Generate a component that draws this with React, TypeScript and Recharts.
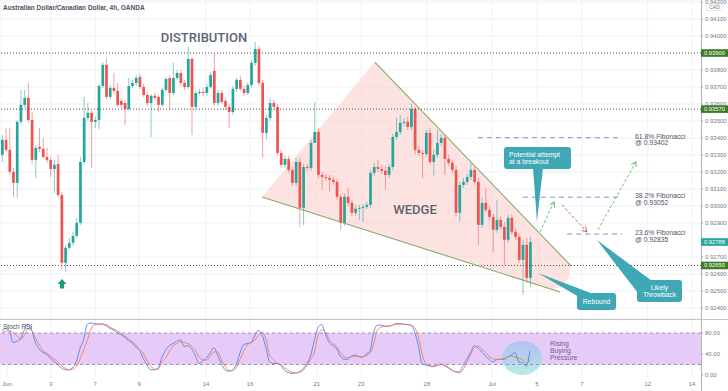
import React from 'react';
import { ComposedChart, Bar, Line, XAxis, YAxis, CartesianGrid, ReferenceLine, ReferenceArea } from 'recharts';

// AUD/CAD 4h candles
const OPEN = [
  0.93301, 0.93389, 0.93330, 0.93201, 0.93136, 0.93495, 0.93595, 0.93636, 0.93506, 0.93271,
  0.93348, 0.93336, 0.93289, 0.93271, 0.93218, 0.93248, 0.93065, 0.92666, 0.92754, 0.92783,
  0.92824, 0.92901, 0.93259, 0.93518, 0.93548, 0.93495, 0.93506, 0.93706, 0.93830, 0.93642,
  0.93695, 0.93677, 0.93618, 0.93606, 0.93571, 0.93706, 0.93724, 0.93759, 0.93700, 0.93653,
  0.93606, 0.93648, 0.93642, 0.93595, 0.93683, 0.93753, 0.93665, 0.93753, 0.93783, 0.93724,
  0.93700, 0.93865, 0.93583, 0.93665, 0.93671, 0.93665, 0.93700, 0.93795, 0.93606, 0.93665,
  0.93618, 0.93583, 0.93553, 0.93689, 0.93742, 0.93689, 0.93665, 0.93712, 0.93842, 0.93924,
  0.93724, 0.93430, 0.93518, 0.93606, 0.93583, 0.93312, 0.93242, 0.93277, 0.93212, 0.93136,
  0.93259, 0.92989, 0.93230, 0.93224, 0.93371, 0.93436, 0.93183, 0.93171, 0.93165, 0.93154,
  0.93142, 0.93054, 0.92901, 0.93054, 0.93018, 0.92960, 0.92983, 0.92989, 0.92995, 0.93007,
  0.93195, 0.93230, 0.93218, 0.93207, 0.93183, 0.93230, 0.93406, 0.93436, 0.93489, 0.93495,
  0.93465, 0.93571, 0.93330, 0.93312, 0.93306, 0.93430, 0.93259, 0.93301, 0.93371, 0.93401,
  0.93277, 0.93254, 0.93212, 0.92960, 0.93124, 0.93142, 0.93171, 0.93212, 0.93142, 0.92889,
  0.93018, 0.92977, 0.92936, 0.92860, 0.92918, 0.92877, 0.92801, 0.92930, 0.92848, 0.92818,
  0.92683, 0.92771, 0.92577,
];
const HIGH = [
  0.93418, 0.93459, 0.93459, 0.93224, 0.93506, 0.93683, 0.93683, 0.93724, 0.93553, 0.93359,
  0.93459, 0.93401, 0.93342, 0.93289, 0.93271, 0.93301, 0.93083, 0.92771, 0.92813, 0.92848,
  0.92930, 0.93289, 0.93642, 0.93606, 0.93565, 0.93524, 0.93718, 0.93847, 0.93871, 0.93712,
  0.93783, 0.93724, 0.93630, 0.93624, 0.93753, 0.93742, 0.93771, 0.93777, 0.93718, 0.93671,
  0.93659, 0.93665, 0.93653, 0.93695, 0.93759, 0.93771, 0.93842, 0.93800, 0.93800, 0.93742,
  0.93936, 0.93877, 0.93677, 0.93689, 0.93695, 0.93718, 0.93789, 0.93900, 0.93683, 0.93683,
  0.93636, 0.93600, 0.93706, 0.93753, 0.93765, 0.93706, 0.93730, 0.93859, 0.93965, 0.93942,
  0.93742, 0.93536, 0.93636, 0.93624, 0.93600, 0.93330, 0.93295, 0.93295, 0.93230, 0.93283,
  0.93283, 0.93248, 0.93248, 0.93389, 0.93612, 0.93459, 0.93201, 0.93189, 0.93183, 0.93171,
  0.93159, 0.93071, 0.93071, 0.93107, 0.93036, 0.93007, 0.93007, 0.93012, 0.93024, 0.93212,
  0.93254, 0.93271, 0.93242, 0.93236, 0.93248, 0.93424, 0.93518, 0.93536, 0.93518, 0.93524,
  0.93600, 0.93583, 0.93354, 0.93330, 0.93448, 0.93459, 0.93330, 0.93448, 0.93424, 0.93418,
  0.93301, 0.93271, 0.93236, 0.93142, 0.93165, 0.93189, 0.93254, 0.93230, 0.93165, 0.93048,
  0.93107, 0.93001, 0.92954, 0.93036, 0.92936, 0.92907, 0.92948, 0.92948, 0.92871, 0.92836,
  0.92801, 0.92813, 0.92818,
];
const LOW = [
  0.93259, 0.93318, 0.93183, 0.93054, 0.93048, 0.93477, 0.93577, 0.93495, 0.93248, 0.93165,
  0.93318, 0.93277, 0.93254, 0.93171, 0.93077, 0.93054, 0.92624, 0.92613, 0.92742, 0.92766,
  0.92813, 0.92889, 0.93242, 0.93501, 0.93224, 0.93459, 0.93453, 0.93695, 0.93624, 0.93624,
  0.93659, 0.93583, 0.93577, 0.93477, 0.93559, 0.93695, 0.93706, 0.93689, 0.93642, 0.93589,
  0.93406, 0.93624, 0.93553, 0.93583, 0.93671, 0.93565, 0.93653, 0.93742, 0.93706, 0.93683,
  0.93689, 0.93418, 0.93565, 0.93653, 0.93648, 0.93648, 0.93689, 0.93589, 0.93589, 0.93600,
  0.93565, 0.93459, 0.93536, 0.93671, 0.93677, 0.93648, 0.93653, 0.93695, 0.93824, 0.93706,
  0.93283, 0.93389, 0.93501, 0.93565, 0.93295, 0.93224, 0.93224, 0.93195, 0.93118, 0.93118,
  0.92877, 0.92889, 0.93207, 0.93207, 0.93418, 0.93165, 0.93095, 0.93148, 0.93083, 0.93124,
  0.93036, 0.92860, 0.92883, 0.93001, 0.92942, 0.92942, 0.92918, 0.92907, 0.92983, 0.92989,
  0.93177, 0.93201, 0.93189, 0.93095, 0.93165, 0.93212, 0.93389, 0.93418, 0.93471, 0.93448,
  0.93448, 0.93301, 0.93295, 0.93165, 0.93289, 0.93242, 0.93177, 0.93283, 0.93354, 0.93183,
  0.93236, 0.93195, 0.92942, 0.92907, 0.93107, 0.93124, 0.93154, 0.93124, 0.92771, 0.92871,
  0.92960, 0.92918, 0.92730, 0.92842, 0.92860, 0.92654, 0.92783, 0.92830, 0.92801, 0.92666,
  0.92477, 0.92548, 0.92524,
];
const CLOSE = [
  0.93389, 0.93330, 0.93201, 0.93136, 0.93495, 0.93595, 0.93636, 0.93506, 0.93271, 0.93342,
  0.93336, 0.93289, 0.93271, 0.93218, 0.93242, 0.93065, 0.92666, 0.92754, 0.92783, 0.92824,
  0.92901, 0.93259, 0.93518, 0.93548, 0.93495, 0.93506, 0.93706, 0.93830, 0.93642, 0.93695,
  0.93677, 0.93595, 0.93595, 0.93571, 0.93706, 0.93724, 0.93753, 0.93700, 0.93653, 0.93606,
  0.93648, 0.93636, 0.93595, 0.93683, 0.93747, 0.93665, 0.93753, 0.93783, 0.93724, 0.93700,
  0.93865, 0.93583, 0.93665, 0.93671, 0.93665, 0.93700, 0.93771, 0.93606, 0.93665, 0.93612,
  0.93583, 0.93553, 0.93689, 0.93742, 0.93689, 0.93665, 0.93712, 0.93842, 0.93924, 0.93724,
  0.93430, 0.93518, 0.93606, 0.93583, 0.93312, 0.93242, 0.93277, 0.93212, 0.93136, 0.93259,
  0.92989, 0.93230, 0.93224, 0.93371, 0.93436, 0.93183, 0.93171, 0.93165, 0.93154, 0.93142,
  0.93054, 0.92901, 0.93054, 0.93018, 0.92960, 0.92983, 0.92989, 0.92995, 0.93007, 0.93195,
  0.93230, 0.93218, 0.93207, 0.93183, 0.93230, 0.93406, 0.93436, 0.93489, 0.93495, 0.93465,
  0.93571, 0.93330, 0.93312, 0.93306, 0.93430, 0.93259, 0.93301, 0.93371, 0.93401, 0.93277,
  0.93254, 0.93212, 0.92960, 0.93124, 0.93142, 0.93171, 0.93212, 0.93142, 0.92889, 0.93018,
  0.92977, 0.92936, 0.92860, 0.92918, 0.92877, 0.92801, 0.92930, 0.92848, 0.92818, 0.92683,
  0.92771, 0.92577, 0.92788,
];

// Stoch RSI %K and %D
const STOCH_K = [
  84, 88, 85, 62, 64, 69, 85, 97, 86, 62, 50, 43, 40, 32, 26, 20, 13, 10, 10, 14,
  25, 50, 68, 97, 99, 98, 97, 97, 94, 89, 86, 80, 77, 72, 66, 61, 53, 48, 32, 20,
  10, 10, 13, 33, 47, 56, 60, 64, 67, 54, 56, 50, 38, 22, 27, 32, 42, 52, 38, 22,
  10, 7, 10, 20, 41, 58, 60, 62, 75, 85, 76, 52, 25, 22, 22, 19, 9, 5, 3, 4,
  6, 12, 22, 36, 65, 90, 96, 78, 62, 56, 50, 36, 30, 30, 36, 38, 35, 34, 40, 46,
  82, 95, 95, 93, 93, 95, 98, 98, 97, 96, 95, 82, 55, 22, 19, 17, 16, 18, 21, 18,
  14, 9, 6, 6, 18, 30, 42, 56, 52, 44, 37, 30, 25, 29, 30, 30, 34, 38, 43, 25,
  23, 17, 46,
];
const STOCH_D = [
  80, 83, 84, 81, 75, 68, 75, 88, 85, 70, 58, 47, 42, 36, 31, 25, 18, 13, 10, 11,
  16, 30, 48, 67, 88, 96, 97, 97, 96, 92, 88, 84, 80, 74, 70, 63, 58, 48, 42, 28,
  18, 11, 11, 25, 32, 45, 55, 60, 63, 62, 60, 55, 48, 35, 29, 28, 35, 44, 44, 30,
  17, 9, 8, 14, 29, 45, 57, 62, 66, 75, 82, 68, 38, 30, 22, 20, 14, 9, 5, 4,
  5, 9, 17, 30, 42, 75, 86, 82, 68, 60, 54, 43, 35, 33, 35, 36, 35, 35, 37, 42,
  60, 86, 91, 93, 93, 95, 97, 97, 97, 96, 95, 90, 73, 40, 22, 18, 17, 18, 20, 19,
  15, 10, 6, 4, 10, 24, 38, 52, 55, 50, 43, 36, 31, 30, 30, 31, 35, 36, 34, 32,
  29, 22, 29,
];

const TICK_POS = [1.4, 13.2, 25.1, 36.9, 54.9, 66.7, 84.7, 96.6, 114.3, 131.8, 143.9, 156, 173.7, 185.6];
const TICK_LABELS = ['Jun', '3', '7', '9', '14', '16', '21', '23', '28', 'Jul', '5', '7', '12', '14'];
// 0.93900 and 0.92800 sit under the coloured price boxes
const PRICE_TICKS = [
  0.924, 0.925, 0.926, 0.927, 0.929, 0.93, 0.931, 0.932, 0.933,
  0.934, 0.935, 0.936, 0.937, 0.938, 0.94, 0.941, 0.942,
];
const LEVELS = [0.939, 0.9357, 0.9265];
const LAST_PRICE = 0.92788;
const FIB_NAMES = ['61.8% Fibonacci', '38.2% Fibonacci', '23.6% Fibonacci'];
const FIB_PRICES = [0.93402, 0.93052, 0.92835];
const FIB_FROM = [128, 140.1, 152];
const FIB_TO = [166.8, 165.7, 166.8];

const UP = '#26a69a';
const DOWN = '#ef5350';
const X_DOMAIN: [number, number] = [-0.5, 188];
const P_DOMAIN: [number, number] = [0.92335, 0.94212];
const S_DOMAIN: [number, number] = [-5.7, 104.8];
const PLOT_W = 701;
const MAIN_H = 319;

const px = (i: number) => ((i - X_DOMAIN[0]) / (X_DOMAIN[1] - X_DOMAIN[0])) * PLOT_W;
const py = (p: number) => ((P_DOMAIN[1] - p) / (P_DOMAIN[1] - P_DOMAIN[0])) * MAIN_H;

const candles = OPEN.map((o, i) => ({ i, open: o, high: HIGH[i], low: LOW[i], close: CLOSE[i] }));
const stoch = STOCH_K.map((k, i) => ({ i, k, d: STOCH_D[i] }));

// wedge outline in (index, price)
const WEDGE = [
  [100.3, 0.93847], [153.05, 0.92647], [152.5, 0.92577], [150.6, 0.9253], [148.2, 0.92507], [69.95, 0.93053],
];
const WEDGE_BOX = { x1: 69.95, x2: 153.05, y1: 0.92494, y2: 0.93847 };

function Candle(props: any) {
  const { x, y, width, height, payload } = props;
  if (!payload || payload.high == null) return null;
  const { open, close, high, low } = payload;
  const top = Math.min(y, y + height);
  const h = Math.abs(height);
  const span = high - low || 1e-9;
  const toY = (v: number) => top + ((high - v) / span) * h;
  const color = close >= open ? UP : DOWN;
  const yo = toY(open);
  const yc = toY(close);
  const cx = x + width / 2;
  return (
    <g>
      <line x1={cx} x2={cx} y1={top} y2={top + h} stroke={color} strokeOpacity={0.55} strokeWidth={1} />
      <rect x={x} y={Math.min(yo, yc)} width={width} height={Math.max(1, Math.abs(yc - yo))} fill={color} />
    </g>
  );
}

function WedgeShape(props: any) {
  const { x, y, width, height } = props;
  const X = (i: number) => x + ((i - WEDGE_BOX.x1) / (WEDGE_BOX.x2 - WEDGE_BOX.x1)) * width;
  const Y = (p: number) => y + ((WEDGE_BOX.y2 - p) / (WEDGE_BOX.y2 - WEDGE_BOX.y1)) * height;
  const pts = WEDGE.map(([i, p]) => `${X(i)},${Y(p)}`).join(' ');
  return <polygon points={pts} fill="#fbd3cf" fillOpacity={0.65} />;
}

function EllipseShape(props: any) {
  const { x, y, width, height } = props;
  return (
    <g>
      <defs>
        <linearGradient id="ell" x1="0" y1="0" x2="0" y2="1">
          <stop offset="0%" stopColor="#a9c0f3" />
          <stop offset="100%" stopColor="#a3e6e0" />
        </linearGradient>
      </defs>
      <ellipse cx={x + width / 2} cy={y + height / 2} rx={width / 2} ry={height / 2} fill="url(#ell)" fillOpacity={0.8} />
    </g>
  );
}

const axisTick = { fontSize: 6, fill: '#787b86' };

export default function App() {
  const green = '#6cbf6c';
  const red = '#e0605a';
  const callout = '#40a7b5';
  return (
    <div style={{ position: 'absolute', left: 0, top: 0, width: 728, height: 391, background: '#fff', overflow: 'hidden', fontFamily: '"Liberation Sans", Arial, sans-serif' }}>
      <div style={{ position: 'absolute', left: 0, top: 0 }}>
        <ComposedChart width={728} height={319} data={candles} margin={{ top: 0, right: 0, bottom: 0, left: 0 }}>
          <CartesianGrid stroke="#eff1f5" />
          <XAxis type="number" dataKey="i" domain={X_DOMAIN} ticks={TICK_POS} hide allowDataOverflow />
          <YAxis
            orientation="right"
            width={27}
            domain={P_DOMAIN}
            ticks={PRICE_TICKS}
            interval={0}
            allowDataOverflow
            tickFormatter={(v: number) => v.toFixed(5)}
            tick={axisTick}
            tickSize={2}
            tickMargin={2}
            axisLine={false}
            tickLine={{ stroke: '#9598a1' }}
          />
          <ReferenceArea x1={WEDGE_BOX.x1} x2={WEDGE_BOX.x2} y1={WEDGE_BOX.y1} y2={WEDGE_BOX.y2} shape={<WedgeShape />} />
          {LEVELS.map((l) => (
            <ReferenceLine key={l} y={l} stroke="#4d4f57" strokeDasharray="1 2" />
          ))}
          <Bar dataKey={(d: any) => [d.low, d.high]} barSize={2.7} shape={<Candle />} isAnimationActive={false} />
        </ComposedChart>
      </div>
      <div style={{ position: 'absolute', left: 0, top: 320 }}>
        <ComposedChart width={728} height={71} data={stoch} margin={{ top: 0, right: 0, bottom: 0, left: 0 }}>
          <CartesianGrid horizontal={false} stroke="#eff1f5" />
          <XAxis
            type="number"
            dataKey="i"
            domain={X_DOMAIN}
            ticks={TICK_POS}
            interval={0}
            allowDataOverflow
            height={13}
            tickFormatter={(v: number) => TICK_LABELS[TICK_POS.indexOf(v)]}
            tick={axisTick}
            tickSize={0}
            tickMargin={4}
            axisLine={false}
            tickLine={false}
          />
          <YAxis
            orientation="right"
            width={27}
            domain={S_DOMAIN}
            ticks={[0, 40, 80]}
            interval={0}
            allowDataOverflow
            tickFormatter={(v: number) => v.toFixed(2)}
            tick={axisTick}
            tickSize={2}
            tickMargin={2}
            axisLine={false}
            tickLine={{ stroke: '#9598a1' }}
          />
          <ReferenceArea y1={20} y2={80} fill="#e6cbf8" fillOpacity={1} stroke="none" />
          <ReferenceLine y={80} stroke="#9d8fb3" strokeDasharray="3 3" />
          <ReferenceLine y={20} stroke="#9d8fb3" strokeDasharray="3 3" />
          <ReferenceArea x1={134.5} x2={145.3} y1={0} y2={64.8} shape={<EllipseShape />} />
          <Line type="monotone" dataKey="k" stroke="#4a86f2" strokeWidth={0.9} dot={false} isAnimationActive={false} />
          <Line type="monotone" dataKey="d" stroke="#f27d52" strokeWidth={0.9} dot={false} isAnimationActive={false} />
        </ComposedChart>
      </div>

      <svg width={728} height={391} style={{ position: 'absolute', left: 0, top: 0, pointerEvents: 'none' }}>
        <defs>
          <marker id="mg" viewBox="0 0 6 6" refX="5" refY="3" markerWidth="6" markerHeight="6" orient="auto">
            <path d="M0,0 L5,3 L0,6" fill="none" stroke={green} strokeWidth={1} />
          </marker>
          <marker id="mr" viewBox="0 0 6 6" refX="5" refY="3" markerWidth="6" markerHeight="6" orient="auto">
            <path d="M0,0 L5,3 L0,6" fill="none" stroke={red} strokeWidth={1} />
          </marker>
        </defs>

        <line x1={701.5} x2={701.5} y1={0} y2={391} stroke="#b2b5be" />
        <line x1={0} x2={728} y1={319.5} y2={319.5} stroke="#c3c5cc" />

        <text x={3} y={9.5} fontSize={6.5} fontWeight={600} fill="#50535e">Australian Dollar/Canadian Dollar, 4h, OANDA</text>
        <text x={204} y={42} fontSize={13} fontWeight={500} fill="#5d6575" textAnchor="middle" fontFamily="Roboto">DISTRIBUTION</text>
        <text x={415} y={214} fontSize={13} fontWeight={500} fill="#5d6575" textAnchor="middle" fontFamily="Roboto">WEDGE</text>

        {/* wedge trendlines */}
        <line x1={px(100.3)} y1={py(0.93847)} x2={px(153.05)} y2={py(0.92647)} stroke="#86ad6a" strokeWidth={1.1} />
        <line x1={px(69.95)} y1={py(0.93053)} x2={px(150.1)} y2={py(0.92494)} stroke="#86ad6a" strokeWidth={1.1} />

        {/* up arrow */}
        <polygon points="62,279 66.5,284 64,284 64,288.5 60,288.5 60,284 57.5,284" fill="#179c7e" />

        {/* fibonacci levels */}
        {FIB_PRICES.map((p, k) => (
          <g key={p}>
            <line x1={px(FIB_FROM[k])} x2={px(FIB_TO[k])} y1={py(p)} y2={py(p)} stroke="#7d8fd8" strokeDasharray="5 4" />
            <text x={635} y={py(p) + 1} fontSize={6.8} fill="#50535e">{FIB_NAMES[k]}</text>
            <text x={635} y={py(p) + 7.5} fontSize={6.8} fill="#50535e">{'@ ' + p.toFixed(5)}</text>
          </g>
        ))}

        {/* projected path */}
        <line x1={px(144.7)} y1={py(0.92848)} x2={px(148.5)} y2={py(0.93024)} stroke={green} strokeDasharray="3 2" markerEnd="url(#mg)" />
        <line x1={px(150.6)} y1={py(0.93007)} x2={px(157.3)} y2={py(0.92848)} stroke={red} strokeDasharray="3 2" markerEnd="url(#mr)" />
        <line x1={px(160.3)} y1={py(0.9286)} x2={px(170.5)} y2={py(0.93259)} stroke={green} strokeDasharray="3 2" markerEnd="url(#mg)" />

        {/* callouts */}
        <polygon points="533,168 543,168 537,221" fill={callout} />
        <rect x={504} y={147} width={67} height={22} rx={3} fill={callout} />
        <text x={509} y={156.5} fontSize={6.8} fill="#fff">Potential attempt</text>
        <text x={509} y={163.5} fontSize={6.8} fill="#fff">at a breakout</text>

        <polygon points="538,273 579,297 592,293.5" fill={callout} />
        <rect x={577} y={293} width={39} height={17} rx={3} fill={callout} />
        <text x={596.5} y={304} fontSize={6.8} fill="#fff" textAnchor="middle">Rebound</text>

        <polygon points="597,240 638,293 652,281" fill={callout} />
        <rect x={637} y={280} width={45} height={22} rx={3} fill={callout} />
        <text x={659.5} y={289.5} fontSize={6.8} fill="#fff" textAnchor="middle">Likely</text>
        <text x={659.5} y={297} fontSize={6.8} fill="#fff" textAnchor="middle">Throwback</text>

        {/* price labels on axis */}
        {LEVELS.map((l) => (
          <g key={l}>
            <rect x={701} y={py(l) - 3.8} width={27} height={7.6} fill="#3e7b27" />
            <text x={714.5} y={py(l) + 2} fontSize={5.8} fill="#fff" textAnchor="middle">{l.toFixed(5)}</text>
          </g>
        ))}
        <rect x={701} y={py(LAST_PRICE) - 3.8} width={27} height={7.6} fill={UP} />
        <text x={714.5} y={py(LAST_PRICE) + 2} fontSize={5.8} fill="#fff" textAnchor="middle">{LAST_PRICE.toFixed(5)}</text>
        <rect x={706} y={4} width={17} height={6.5} rx={1.5} fill="#fff" stroke="#d6d8de" strokeWidth={0.6} />
        <text x={714.5} y={9.2} fontSize={5} fill="#787b86" textAnchor="middle">CAD</text>

        <text x={3} y={329} fontSize={6.5} fill="#50535e">Stoch RSI</text>
        <text x={550} y={345.5} fontSize={6.8} fill="#6e5f8f">Rising</text>
        <text x={550} y={352.5} fontSize={6.8} fill="#6e5f8f">Buying</text>
        <text x={550} y={359.5} fontSize={6.8} fill="#6e5f8f">Pressure</text>
      </svg>
    </div>
  );
}
